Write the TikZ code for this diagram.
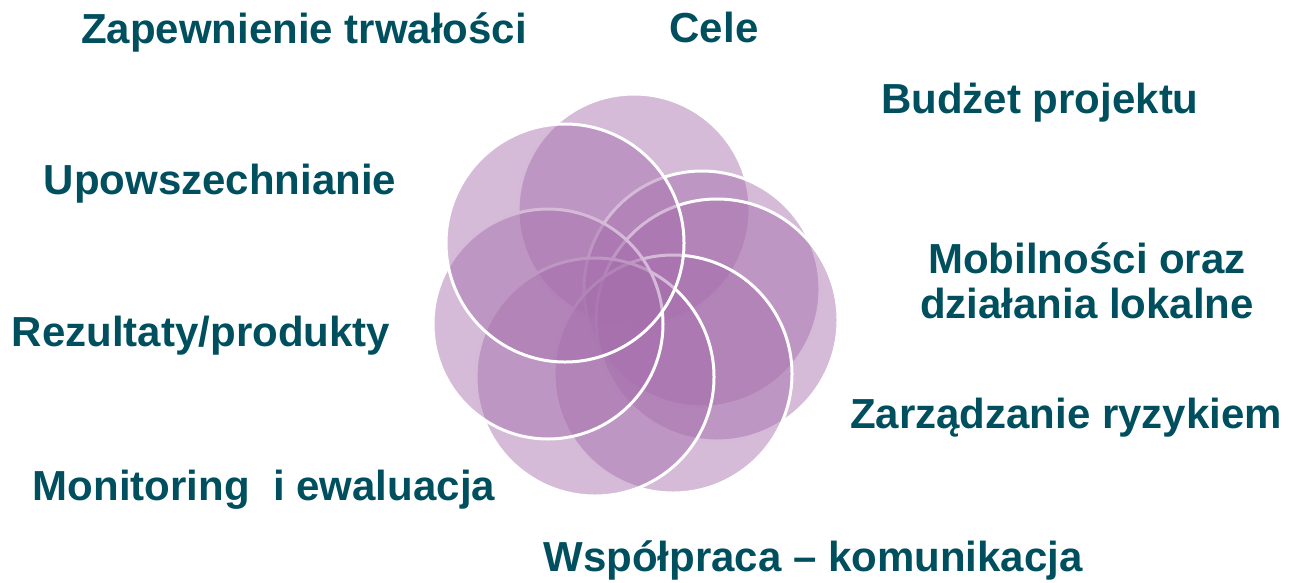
\documentclass[tikz,border=0pt]{standalone}
\usepackage{fontspec}
\setmainfont{Liberation Sans}
\definecolor{txt}{RGB}{0,79,94}
\definecolor{petalc}{RGB}{165,110,172}
\begin{document}
\begin{tikzpicture}[x=1pt,y=-1pt,
  petal/.style={circle, draw=white, line width=3pt, fill=petalc, fill opacity=0.47, draw opacity=1, inner sep=0pt, outer sep=0pt},
  lab/.style={text=txt, font=\fontsize{42}{45}\selectfont\bfseries, inner sep=0pt, anchor=base, align=center}]
\useasboundingbox (0,0) rectangle (1289,582);
% circles, in drawing order
\node[petal, minimum size=232pt] (cT)   at (634,210) {};
\node[petal, minimum size=236pt] (cE1)  at (702,289) {};
\node[petal, minimum size=242pt] (cR1)  at (717,320) {};
\node[petal, minimum size=238pt] (cSE1) at (673,374) {};
\node[petal, minimum size=238pt] (cSE2) at (595,377) {};
\node[petal, minimum size=230pt] (cL)   at (548,324) {};
\node[petal, minimum size=238pt] (cNW)  at (565,243) {};
% labels
\node[lab] (zap) at (304,43) {Zapewnienie trwałości};
\node[lab] (cele) at (714,42) {Cele};
\node[lab] (bud) at (1040,113) {Budżet projektu};
\node[lab] (upo) at (220,194) {Upowszechnianie};
\node[lab] (mob1) at (1087,273) {Mobilności oraz};
\node[lab] (mob2) at (1087,318) {działania lokalne};
\node[lab] (zar) at (1066,428) {Zarządzanie ryzykiem};
\node[lab] (rez) at (201,346) {Rezultaty/produkty};
\node[lab] (mon) at (264,500) {Monitoring\ \ i ewaluacja};
\node[lab] (wsp) at (813,571) {Współpraca – komunikacja};
\end{tikzpicture}
\end{document}
